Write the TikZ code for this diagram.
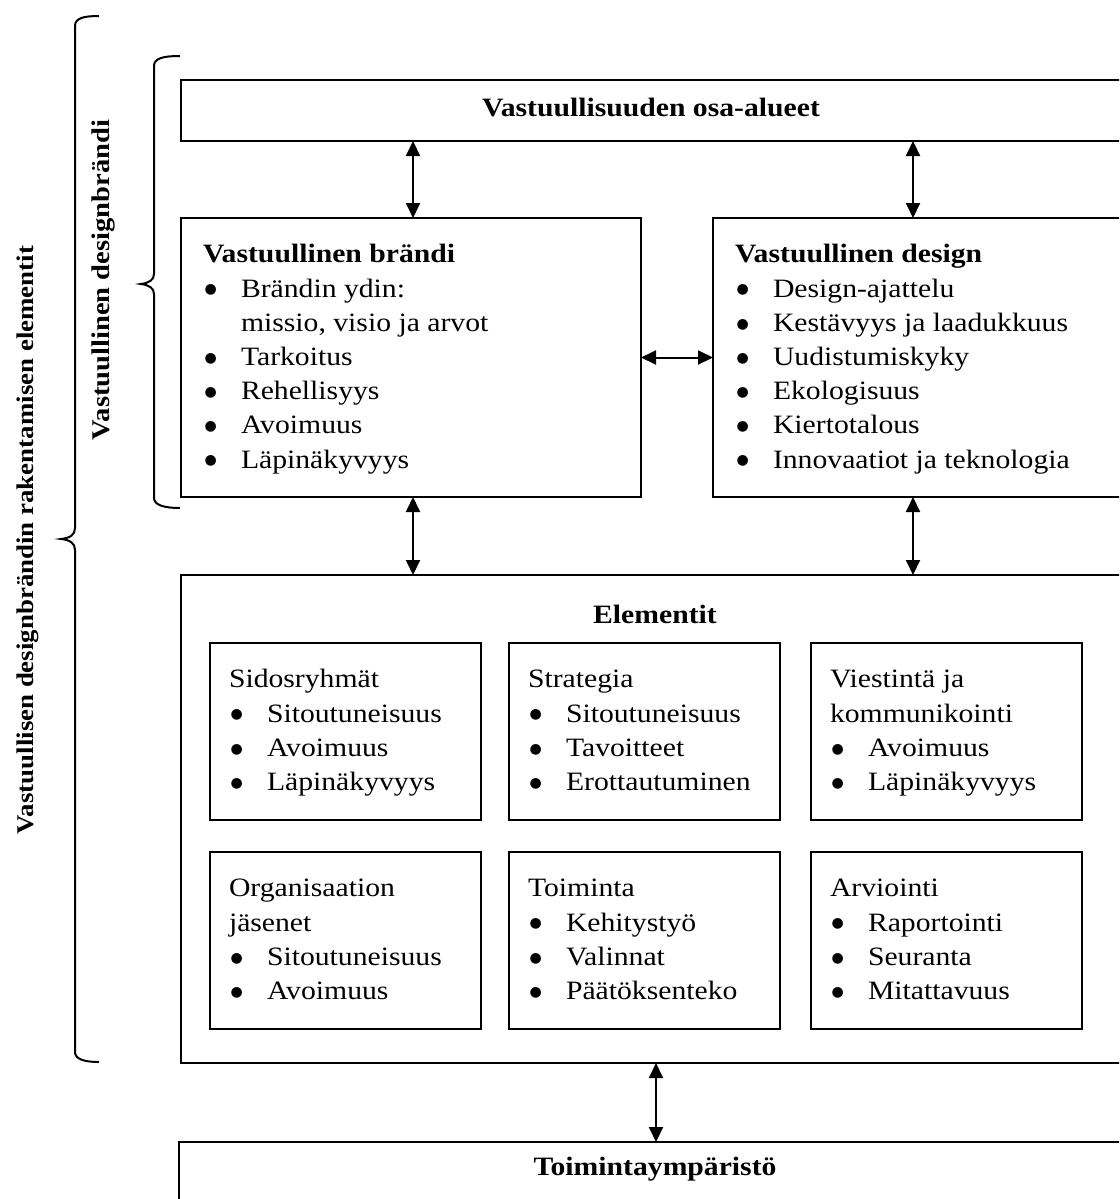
\documentclass[tikz,border=0pt]{standalone}
\usepackage{fontspec}
\setmainfont{Liberation Serif}[FakeStretch=1.12]
\newfontfamily\symfont{DejaVu Sans}
\usetikzlibrary{arrows.meta}
\newcommand\fsz{\fontsize{26.5}{34.2}\selectfont}
\newcommand\bul{\hspace*{1.5pt}\makebox[36.5pt][l]{\raisebox{3.2pt}{\symfont\fontsize{14}{14}\selectfont ●}}}
\begin{document}
\begin{tikzpicture}[x=1pt,y=-1pt,
  bigbox/.style={draw, line width=2.3pt, inner sep=0pt, outer sep=0pt, anchor=north west},
  smallbox/.style={draw, line width=1.3pt, inner sep=0pt, outer sep=0pt, anchor=north west,
    minimum width=271pt, minimum height=177pt},
  txt/.style={inner sep=0pt, outer sep=0pt, anchor=north west, align=left, font=\fsz},
  ttl/.style={inner sep=0pt, anchor=base, font=\fsz\bfseries},
  vlab/.style={inner sep=0pt, rotate=90, font=\bfseries},
  arr/.style={{Triangle[length=15pt,width=14pt]}-{Triangle[length=15pt,width=14pt]}, line width=2pt},
  brace/.style={line width=2pt}]
\useasboundingbox (0,0) rectangle (1119,1199);
\clip (0,0) rectangle (1119,1199);
\fill[white] (0,0) rectangle (1119,1199);

% main boxes
\node[bigbox, minimum width=950pt, minimum height=61pt] (top) at (181,80) {};
\node[bigbox, minimum width=460pt, minimum height=279pt] (brandi) at (181,218) {};
\node[bigbox, minimum width=430pt, minimum height=279pt] (design) at (713,218) {};
\node[bigbox, minimum width=950pt, minimum height=488pt] (elem) at (181,575) {};
\node[bigbox, minimum width=954pt, minimum height=100pt] (bottom) at (179,1142) {};

% inner boxes
\node[smallbox] (b11) at (210,643) {};
\node[smallbox] (b12) at (509,643) {};
\node[smallbox] (b13) at (811,643) {};
\node[smallbox] (b21) at (210,852) {};
\node[smallbox] (b22) at (509,852) {};
\node[smallbox] (b23) at (811,852) {};

% titles
\node[ttl] (t1) at (651,116) {Vastuullisuuden osa-alueet};
\node[ttl] (t4) at (655,623) {Elementit};
\node[ttl] (t5) at (655,1175) {Toimintaympäristö};

% brand / design texts
\node[txt] (bt) at (203,239) {\strut\textbf{Vastuullinen brändi}\\
  \bul Brändin ydin:\\
  \hspace*{38pt}missio, visio ja arvot\\
  \bul Tarkoitus\\
  \bul Rehellisyys\\
  \bul Avoimuus\\
  \bul Läpinäkyvyys};
\node[txt] (dt) at (735,239) {\strut\textbf{Vastuullinen design}\\
  \bul Design-ajattelu\\
  \bul Kestävyys ja laadukkuus\\
  \bul Uudistumiskyky\\
  \bul Ekologisuus\\
  \bul Kiertotalous\\
  \bul Innovaatiot ja teknologia};

% inner texts
\node[txt] (x11) at (229,664) {\strut Sidosryhmät\\ \bul Sitoutuneisuus\\ \bul Avoimuus\\ \bul Läpinäkyvyys};
\node[txt] (x12) at (528,664) {\strut Strategia\\ \bul Sitoutuneisuus\\ \bul Tavoitteet\\ \bul Erottautuminen};
\node[txt] (x13) at (830,664) {\strut Viestintä ja\\ kommunikointi\\ \bul Avoimuus\\ \bul Läpinäkyvyys};
\node[txt] (x21) at (229,873) {\strut Organisaation\\ jäsenet\\ \bul Sitoutuneisuus\\ \bul Avoimuus};
\node[txt] (x22) at (528,873) {\strut Toiminta\\ \bul Kehitystyö\\ \bul Valinnat\\ \bul Päätöksenteko};
\node[txt] (x23) at (830,873) {\strut Arviointi\\ \bul Raportointi\\ \bul Seuranta\\ \bul Mitattavuus};

% arrows
\coordinate (xa) at (413,0);
\coordinate (xb) at (913,0);
\coordinate (xc) at (656,0);
\draw[arr] (top.south -| xa) -- (brandi.north -| xa);
\draw[arr] (top.south -| xb) -- (design.north -| xb);
\draw[arr] (brandi.east) -- (design.west);
\draw[arr] (brandi.south -| xa) -- (elem.north -| xa);
\draw[arr] (design.south -| xb) -- (elem.north -| xb);
\draw[arr] (elem.south -| xc) -- (bottom.north -| xc);

% braces
\draw[brace] (99,16) .. controls (84,16) and (75,18) .. (75,26) -- (75,528)
  .. controls (75,535) and (70,538) .. (61,539) .. controls (70,540) and (75,543) .. (75,550)
  -- (75,1052) .. controls (75,1059) and (84,1062) .. (99,1062);
\draw[brace] (180,56) .. controls (164,56) and (154,58) .. (154,66) -- (154,274)
  .. controls (154,280) and (149,283) .. (141,284) .. controls (149,285) and (154,288) .. (154,294)
  -- (154,498) .. controls (154,505) and (164,508) .. (180,508);

% vertical labels
\node[vlab, font=\fontsize{25.5}{30}\selectfont\bfseries] (v1) at (103,280) {Vastuullinen designbrändi};
\node[vlab, font=\fontsize{24}{30}\selectfont\bfseries] (v2) at (28,540) {Vastuullisen designbrändin rakentamisen elementit};
\end{tikzpicture}
\end{document}
